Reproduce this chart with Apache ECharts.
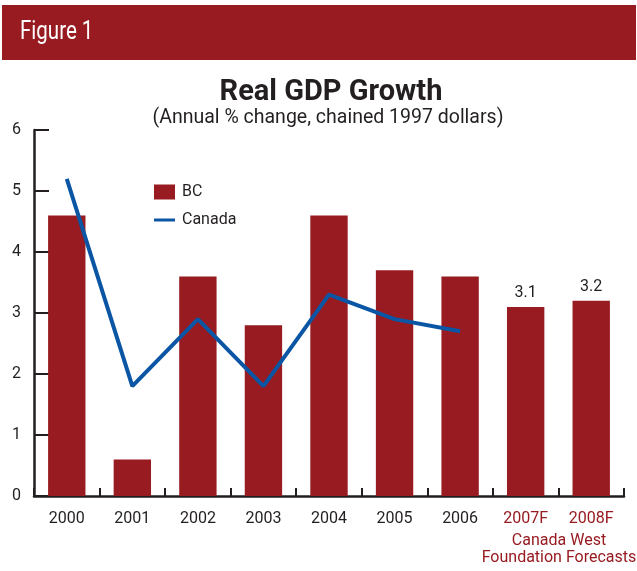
<!DOCTYPE html>
<html>
<head>
<meta charset="utf-8">
<script src="https://cdn.jsdelivr.net/npm/echarts@6/dist/echarts.min.js"></script>
<style>
  html, body { margin: 0; padding: 0; background: #fff; }
  #chart { width: 637px; height: 571px; }
</style>
</head>
<body>
<div id="chart"></div>
<script>
// Real GDP growth, annual % change (chained 1997 dollars)
const categories = ['2000', '2001', '2002', '2003', '2004', '2005', '2006', '2007F', '2008F'];
const bcValues = [4.6, 0.6, 3.6, 2.8, 4.6, 3.7, 3.6, 3.1, 3.2];
const canadaValues = [5.2, 1.8, 2.9, 1.8, 3.3, 2.9, 2.7, null, null];
const forecastCategories = ['2007F', '2008F'];
const yTicks = [0, 1, 2, 3, 4, 5, 6];

const RED = '#971b20';
const BLUE = '#0a56a5';
const INK = '#231f20';
const FONT = '"Roboto", "Liberation Sans", sans-serif';

const chart = echarts.init(document.getElementById('chart'), null, { renderer: 'canvas' });

const bcData = bcValues.map((v, i) => {
  const isForecast = forecastCategories.includes(categories[i]);
  return {
    value: v,
    label: {
      show: isForecast,
      position: 'top',
      distance: 6,
      formatter: (p) => p.value.toFixed(1),
      color: INK,
      fontSize: 16,
      fontFamily: FONT
    }
  };
});

const legendText = { color: INK, fontSize: 16, fontFamily: FONT, padding: [0, 0, 0, 2] };

chart.setOption({
  animation: false,
  backgroundColor: '#fff',
  grid: { left: 34, right: 13, top: 130, bottom: 75, containLabel: false },
  legend: [
    {
      left: 154,
      top: 184,
      padding: 0,
      itemWidth: 21,
      itemHeight: 15,
      textStyle: legendText,
      data: [{ name: 'BC', icon: 'rect' }]
    },
    {
      left: 154,
      top: 212,
      padding: 0,
      itemWidth: 21,
      itemHeight: 3,
      textStyle: legendText,
      data: [{ name: 'Canada', icon: 'rect' }]
    }
  ],
  xAxis: {
    type: 'category',
    data: categories,
    axisLine: { lineStyle: { color: INK, width: 2.5 } },
    axisTick: { show: true, inside: true, length: 8, lineStyle: { color: INK, width: 2 } },
    axisLabel: {
      interval: 0,
      margin: 15,
      fontSize: 16,
      fontFamily: FONT,
      formatter: (v) => forecastCategories.includes(v) ? '{f|' + v + '}' : '{n|' + v + '}',
      rich: {
        n: { color: INK, fontSize: 16, fontFamily: FONT },
        f: { color: RED, fontSize: 16, fontFamily: FONT }
      }
    }
  },
  yAxis: {
    type: 'value',
    min: yTicks[0],
    max: yTicks[yTicks.length - 1],
    interval: 1,
    splitLine: { show: false },
    axisLine: { show: true, lineStyle: { color: INK, width: 2.5 } },
    axisTick: { show: true, inside: true, length: 15, lineStyle: { color: INK, width: 2 } },
    axisLabel: { margin: 13, color: INK, fontSize: 16, fontFamily: FONT }
  },
  series: [
    {
      name: 'BC',
      type: 'bar',
      data: bcData,
      barCategoryGap: '43%',
      itemStyle: { color: RED }
    },
    {
      name: 'Canada',
      type: 'line',
      data: canadaValues,
      symbol: 'none',
      lineStyle: { color: BLUE, width: 4 },
      itemStyle: { color: BLUE },
      z: 5
    }
  ],
  graphic: [
    {
      type: 'rect',
      shape: { x: 2, y: 5, width: 634, height: 55 },
      style: { fill: RED },
      silent: true
    },
    {
      type: 'text',
      x: 20, y: 33,
      scaleX: 0.82,
      style: { text: 'Figure 1', fill: '#fff', fontSize: 25, fontFamily: FONT, verticalAlign: 'middle', textAlign: 'left' }
    },
    {
      type: 'text',
      x: 331, y: 93,
      style: { text: 'Real GDP Growth', fill: INK, fontSize: 29, fontWeight: 'bold', fontFamily: FONT, textAlign: 'center', verticalAlign: 'middle' }
    },
    {
      type: 'text',
      x: 328, y: 118,
      style: { text: '(Annual % change, chained 1997 dollars)', fill: INK, fontSize: 19.5, fontFamily: FONT, textAlign: 'center', verticalAlign: 'middle' }
    },
    {
      type: 'text',
      x: 559, y: 541,
      style: { text: 'Canada West', fill: RED, fontSize: 16, fontFamily: FONT, textAlign: 'center', verticalAlign: 'middle' }
    },
    {
      type: 'text',
      x: 559, y: 558,
      style: { text: 'Foundation Forecasts', fill: RED, fontSize: 16, fontFamily: FONT, textAlign: 'center', verticalAlign: 'middle' }
    }
  ]
});
</script>
</body>
</html>
